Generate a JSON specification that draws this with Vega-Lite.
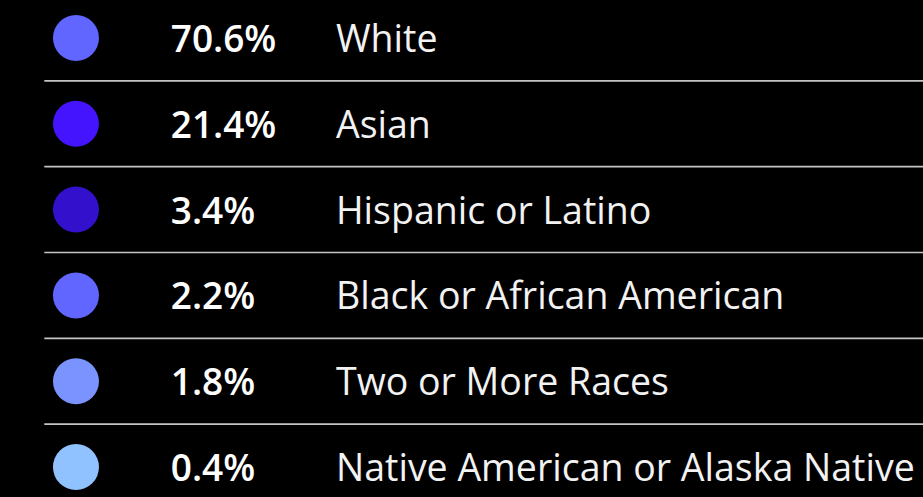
{
  "$schema": "https://vega.github.io/schema/vega-lite/v6.json",
  "width": 923,
  "height": 497,
  "autosize": {"type": "fit", "contains": "padding"},
  "padding": 0,
  "background": "#000000",
  "config": {"view": {"stroke": null}},
  "data": {
    "values": [
      {"race": "White", "pct": 0.706},
      {"race": "Asian", "pct": 0.214},
      {"race": "Hispanic or Latino", "pct": 0.034},
      {"race": "Black or African American", "pct": 0.022},
      {"race": "Two or More Races", "pct": 0.018},
      {"race": "Native American or Alaska Native", "pct": 0.004}
    ]
  },
  "encoding": {
    "y": {
      "field": "race",
      "type": "nominal",
      "axis": null,
      "scale": {
        "type": "band",
        "domain": ["White", "Asian", "Hispanic or Latino", "Black or African American", "Two or More Races", "Native American or Alaska Native"],
        "paddingInner": 0,
        "paddingOuter": 0,
        "range": [-5, 510]
      }
    }
  },
  "layer": [
    {
      "transform": [{"filter": "datum.race !== 'White'"}],
      "mark": {"type": "rule", "color": "#c4c4c4", "strokeWidth": 1.6},
      "encoding": {
        "y": {"field": "race", "type": "nominal", "bandPosition": 0},
        "x": {"datum": 4.8, "type": "quantitative", "scale": {"domain": [0, 100], "range": [0, 923]}, "axis": null},
        "x2": {"datum": 100}
      }
    },
    {
      "mark": {"type": "point", "shape": "circle", "filled": true, "opacity": 1, "size": 2116},
      "encoding": {
        "x": {"datum": 8.23, "type": "quantitative"},
        "color": {
          "field": "race",
          "type": "nominal",
          "legend": null,
          "scale": {
            "domain": ["White", "Asian", "Hispanic or Latino", "Black or African American", "Two or More Races", "Native American or Alaska Native"],
            "range": ["#6066ff", "#4414ff", "#3311cc", "#6066ff", "#7b93ff", "#90c2ff"]
          }
        }
      }
    },
    {
      "mark": {"type": "text", "align": "left", "baseline": "middle", "font": "Open Sans", "fontSize": 37, "fontWeight": 600, "color": "#ffffff", "dy": 3},
      "encoding": {
        "x": {"datum": 18.5, "type": "quantitative"},
        "text": {"field": "pct", "type": "quantitative", "format": ".1%"}
      }
    },
    {
      "mark": {"type": "text", "align": "left", "baseline": "middle", "font": "Open Sans", "fontSize": 37.5, "fontWeight": 400, "color": "#f2f2f2", "dy": 3},
      "encoding": {
        "x": {"datum": 36.4, "type": "quantitative"},
        "text": {"field": "race", "type": "nominal"}
      }
    }
  ]
}
